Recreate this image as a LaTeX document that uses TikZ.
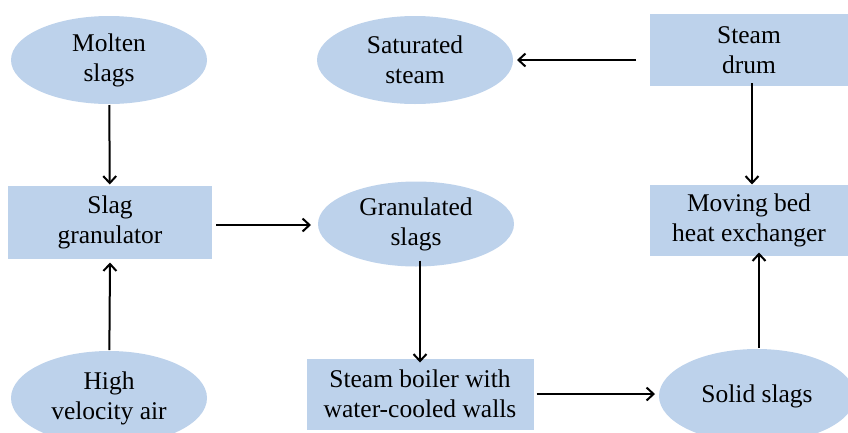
\documentclass[tikz,border=0pt]{standalone}
\usepackage{fontspec}
\setmainfont{Liberation Serif}
\usetikzlibrary{shapes.geometric, arrows.meta}
\definecolor{slagblue}{RGB}{189,210,235}

\begin{document}
\begin{tikzpicture}[x=1pt, y=-1pt, >={Straight Barb[length=7pt, width=13pt]}, line width=2pt,
        oval/.style={ellipse, fill=slagblue, inner sep=0pt, minimum width=196pt, minimum height=88pt,
            align=center, font=\fontsize{25.5}{30}\selectfont},
        unitbox/.style={rectangle, fill=slagblue, inner sep=0pt, minimum width=198pt, minimum height=72pt,
            align=center, font=\fontsize{25.5}{30}\selectfont}]
            \useasboundingbox (0, 0) rectangle (848, 432);
            % top row
            \node[oval] (molten) at (109, 60) {Molten\\slags};
            \node[oval] (saturated) at (415, 60) {Saturated\\steam};
            \node[unitbox] (drum) at (749, 50) {Steam\\drum};
            % middle row
            \node[unitbox, minimum width=204pt, minimum height=73pt] (granulator) at (110, 222) {Slag\\granulator};
            \node[oval, minimum height=85pt] (granulated) at (416, 224) {Granulated\\slags};
            \node[unitbox, minimum height=71pt] (movingbed) at (749, 220) {Moving bed\\heat exchanger};
            % bottom row
            \node[oval, minimum height=94pt] (air) at (109, 398) {High\\velocity air};
            \node[unitbox, minimum width=227pt, minimum height=71pt] (boiler) at (420, 394) {Steam boiler with\\water-cooled walls};
            \node[oval, minimum height=94pt] (solid) at (757, 396) {Solid slags};
            % flows
            \draw[->] (molten) -- (granulator);
            \draw[->] (air) -- ([yshift=-3pt]granulator.south);
            \draw[->] ([xshift=3pt, yshift=-3pt]granulator.east) -- ([xshift=-6pt, yshift=-3pt]granulator.east -| granulated.west);
            \draw[->] ([yshift=7pt]granulated.south -| boiler.north) -- ([yshift=-5pt]boiler.north);
            \draw[->] ([xshift=2pt]boiler.east) -- ([xshift=-3pt]boiler.east -| solid.west);
            \draw[->] ([xshift=2pt]solid.north) -- ([xshift=2pt, yshift=4pt]solid.north |- movingbed.south);
            \draw[->] ([xshift=3pt, yshift=4pt]drum.south) -- ([xshift=3pt, yshift=-1pt]movingbed.north);
            \draw[->] ([xshift=-13pt]drum.west |- saturated.east) -- ([xshift=3pt]saturated.east);
        \end{tikzpicture}
\end{document}
